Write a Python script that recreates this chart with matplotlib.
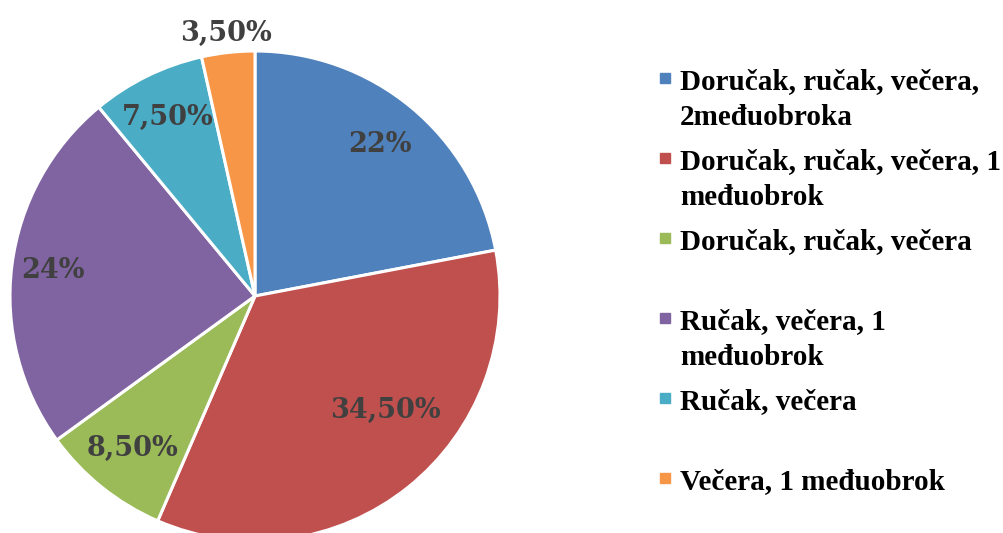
import matplotlib.pyplot as plt
import numpy as np
from matplotlib.patches import Rectangle

categories = [
    'Doručak, ručak, večera,\n2međuobroka',
    'Doručak, ručak, večera, 1\nmeđuobrok',
    'Doručak, ručak, večera',
    'Ručak, večera, 1\nmeđuobrok',
    'Ručak, večera',
    'Večera, 1 međuobrok',
]
shares = [22, 34.5, 8.5, 24, 7.5, 3.5]
colors = ['#4F81BD', '#C0504D', '#9BBB59', '#8064A2', '#4BACC6', '#F79646']

# label placement tweaks (distance from centre, angle shift in degrees)
label_dist = [0.80, 0.71, 0.80, 0.83, 0.81, 1.08]
label_shift = [0, 10, 0, 0, 0, 0]


def fmt(v):
    if float(v).is_integer():
        return f'{int(v)}%'
    return f'{v:.2f}%'.replace('.', ',')


W, H = 1004, 533
fig = plt.figure(figsize=(W / 100, H / 100), dpi=100)

cx, cy, r = 255, 296, 245
ax = fig.add_axes([(cx - r) / W, (H - cy - r) / H, 2 * r / W, 2 * r / H])
wedges, _ = ax.pie(shares, colors=colors, startangle=90, counterclock=False,
                   radius=1, wedgeprops=dict(edgecolor='white', linewidth=2.2))
ax.set_xlim(-1, 1)
ax.set_ylim(-1, 1)
ax.set_aspect('equal')
ax.axis('off')

for w, v, d, s in zip(wedges, shares, label_dist, label_shift):
    ang = np.deg2rad((w.theta1 + w.theta2) / 2 + s)
    ax.text(d * np.cos(ang), d * np.sin(ang), fmt(v), ha='center', va='center',
            family='DejaVu Serif', fontweight='bold', fontsize=19.5, color='#404040')

# legend, one entry every 80 px
for i, (lab, c) in enumerate(zip(categories, colors)):
    y = 78 + 80 * i
    fig.patches.append(Rectangle((660 / W, 1 - (y + 5) / H), 10 / W, 10 / H,
                                 transform=fig.transFigure, color=c))
    fig.text(680 / W, 1 - (y - 10) / H, lab, ha='left', va='top',
             family='Liberation Serif', fontweight='bold', fontsize=21,
             linespacing=1.45, color='black')

fig.savefig('out.png', dpi=100)
